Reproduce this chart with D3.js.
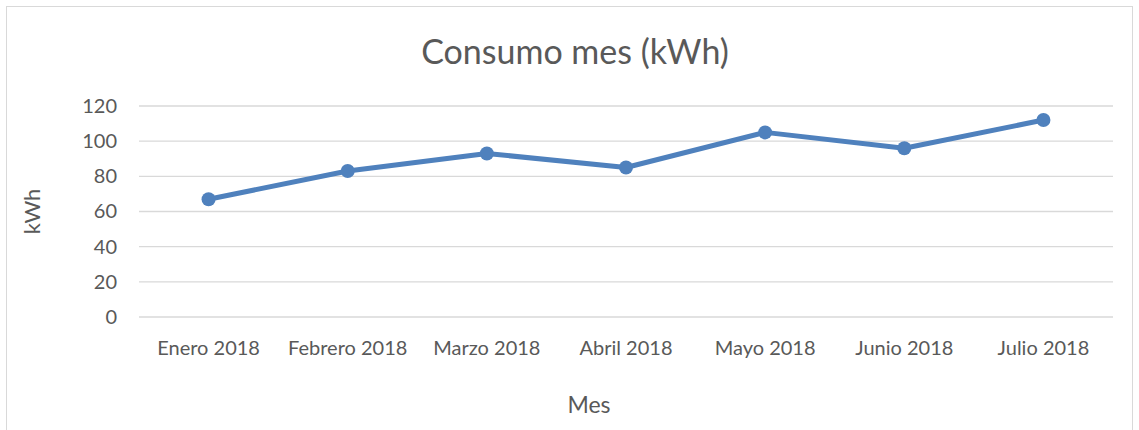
<!DOCTYPE html>
<html>
<head>
<meta charset="utf-8">
<script src="https://cdn.jsdelivr.net/npm/d3@7"></script>
<style>
  html, body { margin: 0; padding: 0; background: #fff; }
  svg { display: block; }
  text { font-family: Lato, "Open Sans", sans-serif; fill: #595959; }
</style>
</head>
<body>
<script>
// Monthly consumption data
const months = ["Enero 2018", "Febrero 2018", "Marzo 2018", "Abril 2018", "Mayo 2018", "Junio 2018", "Julio 2018"];
const consumo = [67, 83, 93, 85, 105, 96, 112];
const yTicks = [0, 20, 40, 60, 80, 100, 120];

const W = 1139, H = 430;
const margin = { left: 139, right: 26, top: 106, bottom: 113 };

const svg = d3.select("body").append("svg").attr("width", W).attr("height", H);

// chart area frame
svg.append("rect")
  .attr("x", 6.5).attr("y", 6.5)
  .attr("width", 1126).attr("height", 440)
  .attr("fill", "#fff").attr("stroke", "#d9d9d9").attr("stroke-width", 1);

const x = d3.scaleBand().domain(months).range([margin.left, W - margin.right]);
const y = d3.scaleLinear().domain([0, 120]).range([H - margin.bottom, margin.top]);

// horizontal gridlines
svg.append("g")
  .selectAll("line").data(yTicks).join("line")
  .attr("x1", margin.left).attr("x2", W - margin.right)
  .attr("y1", d => y(d)).attr("y2", d => y(d))
  .attr("stroke", "#d9d9d9").attr("stroke-width", 1.3);

// y axis labels
const yAxis = d3.axisLeft(y).tickValues(yTicks).tickSize(0).tickPadding(22);
const gy = svg.append("g").attr("transform", `translate(${margin.left},0)`).call(yAxis);
gy.select(".domain").remove();
gy.selectAll("text").style("font-size", "20px").attr("fill", "#595959").style("font-family", "Lato, sans-serif");

// x axis labels
const xAxis = d3.axisBottom(x).tickSize(0).tickPadding(24);
const gx = svg.append("g").attr("transform", `translate(0,${y(0)})`).call(xAxis);
gx.select(".domain").remove();
gx.selectAll("text").style("font-size", "20px").attr("fill", "#595959").style("font-family", "Lato, sans-serif");

// line + markers
const cx = d => x(d) + x.bandwidth() / 2;
const line = d3.line().x((d, i) => cx(months[i])).y(d => y(d));
svg.append("path").datum(consumo)
  .attr("d", line)
  .attr("fill", "none").attr("stroke", "#4f81bd").attr("stroke-width", 5)
  .attr("stroke-linejoin", "round");
svg.append("g").selectAll("circle").data(consumo).join("circle")
  .attr("cx", (d, i) => cx(months[i])).attr("cy", d => y(d))
  .attr("r", 7).attr("fill", "#4f81bd");

// title
svg.append("text").attr("x", 575).attr("y", 64).attr("text-anchor", "middle")
  .style("font-size", "34px").text("Consumo mes (kWh)");

// axis titles
svg.append("text").attr("transform", `translate(40,${(y(0) + y(120)) / 2}) rotate(-90)`)
  .attr("text-anchor", "middle").style("font-size", "22px").text("kWh");
svg.append("text").attr("x", 589).attr("y", 413).attr("text-anchor", "middle")
  .style("font-size", "23px").text("Mes");
</script>
</body>
</html>
